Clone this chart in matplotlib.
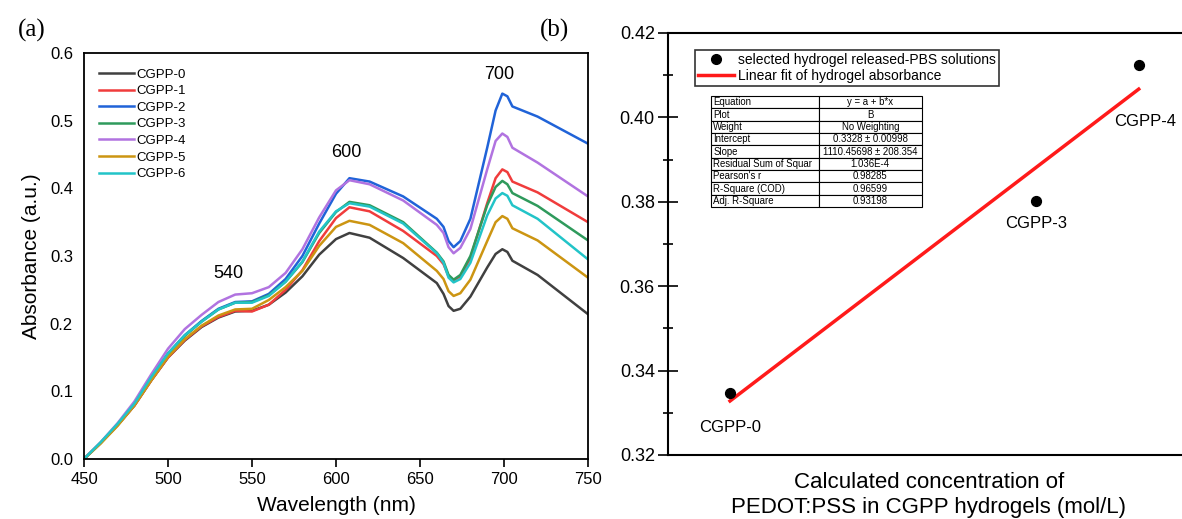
import numpy as np
import matplotlib
matplotlib.use("Agg")
import matplotlib.pyplot as plt
from matplotlib.lines import Line2D

plt.rcParams['font.family'] = ['Liberation Sans', 'DejaVu Sans']

# ---- panel (a) UV-vis spectra ----
wavelength = [450, 460, 470, 480, 490, 500, 510, 520, 530, 540, 550, 560, 570, 580, 590, 600, 608, 620,
              640, 660, 664, 667, 670, 674, 680, 690, 695, 699, 702, 705, 720, 750]
cgpp0 = [0, 0.024, 0.05, 0.079, 0.116, 0.150, 0.175, 0.195, 0.209, 0.218, 0.219, 0.228, 0.246, 0.270, 0.302, 0.325,
         0.334, 0.327, 0.297, 0.260, 0.244, 0.226, 0.219, 0.222, 0.240, 0.283, 0.303, 0.310, 0.306, 0.293, 0.272, 0.214]
cgpp1 = [0, 0.024, 0.05, 0.079, 0.116, 0.150, 0.176, 0.196, 0.210, 0.219, 0.218, 0.228, 0.250, 0.279, 0.322, 0.356,
         0.372, 0.366, 0.337, 0.300, 0.288, 0.270, 0.264, 0.270, 0.297, 0.378, 0.415, 0.428, 0.424, 0.410, 0.394, 0.350]
cgpp2 = [0, 0.024, 0.051, 0.081, 0.120, 0.156, 0.183, 0.204, 0.222, 0.232, 0.233, 0.244, 0.266, 0.300, 0.348, 0.392,
         0.415, 0.410, 0.388, 0.355, 0.343, 0.322, 0.313, 0.322, 0.355, 0.460, 0.515, 0.540, 0.536, 0.521, 0.506, 0.466]
cgpp3 = [0, 0.024, 0.051, 0.081, 0.119, 0.155, 0.182, 0.203, 0.221, 0.231, 0.232, 0.242, 0.262, 0.291, 0.334, 0.365,
         0.380, 0.375, 0.350, 0.305, 0.292, 0.272, 0.265, 0.272, 0.300, 0.375, 0.402, 0.411, 0.406, 0.393, 0.374, 0.323]
cgpp4 = [0, 0.025, 0.053, 0.085, 0.125, 0.163, 0.192, 0.213, 0.232, 0.243, 0.245, 0.254, 0.275, 0.310, 0.357, 0.397,
         0.412, 0.406, 0.382, 0.346, 0.334, 0.313, 0.304, 0.312, 0.340, 0.428, 0.470, 0.481, 0.476, 0.460, 0.438, 0.388]
cgpp5 = [0, 0.023, 0.049, 0.079, 0.116, 0.151, 0.177, 0.197, 0.212, 0.221, 0.222, 0.235, 0.254, 0.278, 0.315, 0.343,
         0.352, 0.346, 0.319, 0.278, 0.266, 0.248, 0.241, 0.245, 0.265, 0.322, 0.350, 0.359, 0.355, 0.341, 0.323, 0.268]
cgpp6 = [0, 0.025, 0.052, 0.082, 0.121, 0.156, 0.183, 0.203, 0.221, 0.231, 0.231, 0.241, 0.262, 0.292, 0.336, 0.366,
         0.378, 0.373, 0.348, 0.304, 0.290, 0.268, 0.261, 0.266, 0.290, 0.360, 0.385, 0.393, 0.389, 0.375, 0.355, 0.295]
spectra = [cgpp0, cgpp1, cgpp2, cgpp3, cgpp4, cgpp5, cgpp6]
spectra_names = ['CGPP-0', 'CGPP-1', 'CGPP-2', 'CGPP-3', 'CGPP-4', 'CGPP-5', 'CGPP-6']
spectra_colors = ['#404040', '#f03c3c', '#2063d8', '#2f9a5c', '#b173e0', '#cc9512', '#22c4c8']
peak_labels = ['540', '600', '700']
peak_pos = [(536, 0.274), (606, 0.453), (697, 0.568)]

# ---- panel (b) linear fit ----
sample_names = ['CGPP-0', 'CGPP-3', 'CGPP-4']
conc = [0.0, 4.99e-5, 6.655e-5]
absorb = [0.3348, 0.3801, 0.4125]
intercept = 0.3328
slope = 1110.45698
fit_rows = [['Equation', 'y = a + b*x'],
            ['Plot', 'B'],
            ['Weight', 'No Weighting'],
            ['Intercept', '0.3328 \u00b1 0.00998'],
            ['Slope', '1110.45698 \u00b1 208.354'],
            ['Residual Sum of Squar', '1.036E-4'],
            ["Pearson's r", '0.98285'],
            ['R-Square (COD)', '0.96599'],
            ['Adj. R-Square', '0.93198']]

W, H = 1182, 519
fig = plt.figure(figsize=(W / 100, H / 100), dpi=100)


def px_rect(left, top, right, bottom):
    return [left / W, 1 - bottom / H, (right - left) / W, (bottom - top) / H]


# (a)
ax1 = fig.add_axes(px_rect(84, 53, 588, 459))
for y, name, c in zip(spectra, spectra_names, spectra_colors):
    ax1.plot(wavelength, y, color=c, lw=1.8, label=name)
ax1.set_xlim(450, 750)
ax1.set_ylim(0, 0.6)
ax1.set_xticks(np.arange(450, 751, 50))
ax1.set_yticks(np.arange(0, 0.61, 0.1))
ax1.yaxis.set_major_formatter(matplotlib.ticker.FormatStrFormatter('%.1f'))
ax1.tick_params(axis='x', direction='out', length=6, width=1.2, labelsize=12, pad=3)
ax1.tick_params(axis='y', direction='out', length=0, labelsize=12, pad=8)
for s in ax1.spines.values():
    s.set_linewidth(1.3)
ax1.set_ylabel('Absorbance (a.u.)', fontsize=15, labelpad=6)
ax1.set_xlabel('Wavelength (nm)', fontsize=15, labelpad=7)
for txt, (xx, yy) in zip(peak_labels, peak_pos):
    ax1.text(xx, yy, txt, fontsize=13, ha='center', va='center')
ax1.legend(loc='upper left', bbox_to_anchor=(0.02, 0.975), frameon=False, fontsize=9.5,
           handlelength=2.6, handletextpad=0.2, labelspacing=0.33, borderaxespad=0)

# (b) - right edge of the frame runs past the picture edge
ax2 = fig.add_axes(px_rect(668, 33, 1190, 455))
xfit = np.array([conc[0], conc[-1]])
ax2.plot(xfit, intercept + slope * xfit, color='#ff1a1a', lw=2.5, zorder=2)
ax2.scatter(conc, absorb, s=50, color='black', zorder=3)
ax2.set_xlim(-1.01e-5, 7.49e-5)
ax2.set_ylim(0.32, 0.42)
ax2.set_yticks(np.arange(0.32, 0.421, 0.02))
ax2.set_yticks(np.arange(0.33, 0.42, 0.02), minor=True)
ax2.yaxis.set_major_formatter(matplotlib.ticker.FormatStrFormatter('%.2f'))
ax2.set_xticks([])
ax2.tick_params(axis='y', which='major', direction='inout', length=15, width=1.2, labelsize=13, pad=2)
ax2.tick_params(axis='y', which='minor', direction='inout', length=7, width=1.2)
for s in ax2.spines.values():
    s.set_linewidth(1.5)
ax2.set_xlabel('Calculated concentration of\nPEDOT:PSS in CGPP hydrogels (mol/L)', fontsize=16,
               labelpad=12, linespacing=1.3)
ax2.text(conc[0], 0.3265, sample_names[0], fontsize=12, ha='center', va='center')
ax2.text(conc[1], 0.3748, sample_names[1], fontsize=12, ha='center', va='center')
ax2.text(conc[2] + 0.1e-5, 0.3990, sample_names[2], fontsize=12, ha='center', va='center')

handles = [Line2D([], [], marker='o', color='black', ls='none', markersize=7),
           Line2D([], [], color='#ff1a1a', lw=2.5)]
leg = ax2.legend(handles, ['selected hydrogel released-PBS solutions', 'Linear fit of hydrogel absorbance'],
                 loc='upper left', bbox_to_anchor=(0.052, 0.96), fontsize=10, frameon=True, fancybox=False,
                 handlelength=2.6, handletextpad=0.3, labelspacing=0.12, borderpad=0.22, borderaxespad=0)
leg.get_frame().set_edgecolor('black')
leg.get_frame().set_linewidth(1.2)

# fit statistics table
tax = fig.add_axes(px_rect(711, 96, 922, 207))
tax.axis('off')
tab = tax.table(cellText=fit_rows, bbox=[0, 0, 1, 1], colWidths=[0.51, 0.49])
tab.auto_set_font_size(False)
tab.set_fontsize(6.9)
for (r, c), cell in tab.get_celld().items():
    cell.set_linewidth(0.8)
    cell.PAD = 0.02
    cell.get_text().set_ha('left' if c == 0 else 'center')

fig.text(18 / W, 1 - 30 / H, '(a)', fontsize=18, family='Liberation Serif', va='center')
fig.text(540 / W, 1 - 30 / H, '(b)', fontsize=18, family='Liberation Serif', va='center')

plt.savefig('out.png', dpi=100)
